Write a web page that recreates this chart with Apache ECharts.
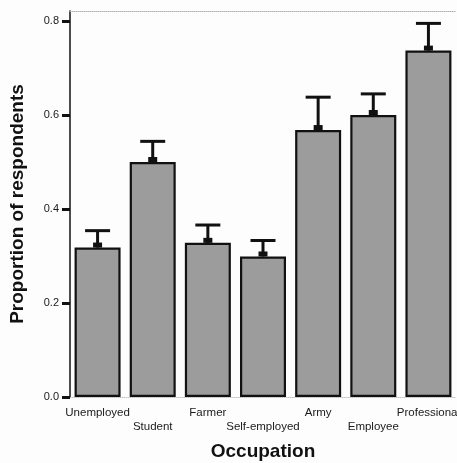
<!DOCTYPE html>
<html>
<head>
<meta charset="utf-8">
<script src="https://cdn.jsdelivr.net/npm/echarts@6/dist/echarts.min.js"></script>
<style>
  html, body { margin: 0; padding: 0; background: #fdfdfd; }
  #chart { width: 457px; height: 463px; }
</style>
</head>
<body>
<div id="chart"></div>
<script>
// Proportion of respondents by occupation, with upper error bars
const occupations = ['Unemployed', 'Student', 'Farmer', 'Self-employed', 'Army', 'Employee', 'Professional'];
const proportions = [0.318, 0.500, 0.328, 0.299, 0.568, 0.600, 0.737];
const upperErrors = [0.355, 0.545, 0.367, 0.334, 0.639, 0.646, 0.796];
const yTicks = [0, 0.2, 0.4, 0.6, 0.8];

const chart = echarts.init(document.getElementById('chart'), null, { renderer: 'canvas' });

const errorData = occupations.map((c, i) => [i, proportions[i], upperErrors[i]]);

function renderError(params, api) {
  const i = api.value(0);
  const base = api.coord([i, api.value(1)]);
  const top = api.coord([i, api.value(2)]);
  const x = base[0];
  return {
    type: 'group',
    children: [
      { type: 'rect', shape: { x: x - 4.5, y: base[1] - 5, width: 9, height: 5 }, style: { fill: '#111' } },
      { type: 'rect', shape: { x: x - 1.5, y: top[1], width: 3, height: base[1] - top[1] }, style: { fill: '#111' } },
      { type: 'rect', shape: { x: x - 12.5, y: top[1] - 1, width: 25, height: 3 }, style: { fill: '#111' } }
    ]
  };
}

chart.setOption({
  animation: false,
  backgroundColor: '#fdfdfd',
  grid: { left: 70, top: 11, width: 386, height: 386, containLabel: false, outerBoundsMode: 'none' },
  xAxis: [
    {
      type: 'category',
      data: occupations,
      position: 'bottom',
      axisLine: { lineStyle: { color: '#c4c4c4', width: 1, type: 'dotted' } },
      axisTick: { alignWithLabel: true, length: 8, lineStyle: { color: '#111', width: 3 } },
      axisLabel: {
        interval: 0,
        margin: 9,
        color: '#1a1a1a',
        fontFamily: 'Liberation Sans, Arial, sans-serif',
        fontSize: 11.5,
        lineHeight: 14,
        hideOverlap: false,
        formatter: (v, i) => (i % 2 ? '\n' + v : v)
      },
      name: 'Occupation',
      nameLocation: 'middle',
      nameGap: 45,
      nameTextStyle: { fontFamily: 'Liberation Sans, Arial, sans-serif', fontSize: 19, fontWeight: 'bold', color: '#111' }
    },
    {
      type: 'category',
      data: occupations,
      position: 'top',
      axisLine: { lineStyle: { color: '#b0b0b0', width: 1, type: 'dotted' } },
      axisTick: { show: false },
      axisLabel: { show: false }
    }
  ],
  yAxis: {
    type: 'value',
    min: 0,
    max: 0.8213,
    axisLine: { show: true, lineStyle: { color: '#111', width: 1.5 } },
    axisTick: { show: true, length: 8, customValues: yTicks, lineStyle: { color: '#111', width: 3 } },
    axisLabel: {
      customValues: yTicks,
      margin: 11,
      color: '#1a1a1a',
      fontFamily: 'Liberation Sans, Arial, sans-serif',
      fontSize: 11,
      formatter: v => v.toFixed(1)
    },
    splitLine: { show: false },
    name: 'Proportion of respondents',
    nameLocation: 'middle',
    nameGap: 43,
    nameTextStyle: { fontFamily: 'Liberation Sans, Arial, sans-serif', fontSize: 19, fontWeight: 'bold', color: '#111' }
  },
  series: [
    {
      type: 'bar',
      data: proportions,
      barWidth: 46,
      itemStyle: { color: '#9c9c9c', borderColor: '#111', borderWidth: 2.2 }
    },
    {
      type: 'custom',
      data: errorData,
      encode: { x: 0, y: [1, 2] },
      renderItem: renderError,
      z: 3
    }
  ]
});
</script>
</body>
</html>
